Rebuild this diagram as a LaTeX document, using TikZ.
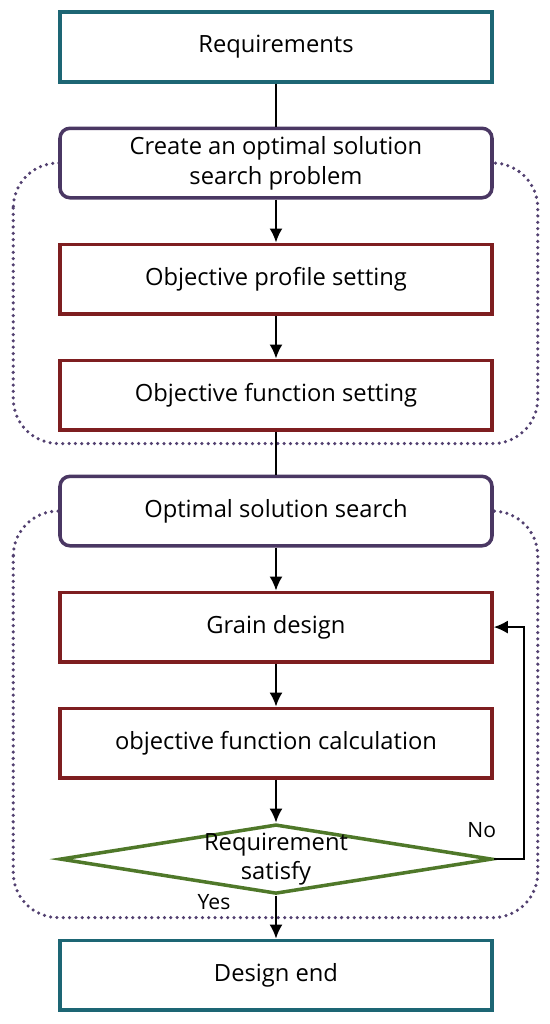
\documentclass[tikz,border=0pt]{standalone}
\usepackage{fontspec}
\setmainfont{Open Sans}
\usepackage{tikz}
\usetikzlibrary{arrows.meta,positioning,shapes.geometric,backgrounds}

\definecolor{endcol}{HTML}{1D6674}
\definecolor{probcol}{HTML}{4A3763}
\definecolor{taskcol}{HTML}{7E1E20}
\definecolor{deccol}{HTML}{4F7829}
\definecolor{groupcol}{HTML}{524070}

\begin{document}
\begin{tikzpicture}[>={Latex[length=2.8mm,width=2.6mm]},line width=1.1pt,node distance=0.86cm,
        font=\fontsize{13.5}{17}\selectfont,
        box/.style={draw,line width=2pt,fill=white,minimum width=8.64cm,minimum height=1.39cm,align=center,inner sep=2pt},
        endbox/.style={box,draw=endcol},
        probbox/.style={box,draw=probcol,rounded corners=0.2cm},
        taskbox/.style={box,draw=taskcol},
        decision/.style={diamond,draw=deccol,line width=2pt,fill=white,aspect=6,inner sep=0pt,
            minimum width=8.64cm,minimum height=1.39cm},
        group/.style={draw=groupcol,line width=2pt,line cap=round,dash pattern=on 0pt off 3.6pt,rounded corners=0.9cm}]
    
    \useasboundingbox (0,0) rectangle (11,20.48);
    
    \node[endbox] (req) at (5.52,19.54) {Requirements};
    \node[probbox] (create) [below=of req] {Create an optimal solution\\search problem};
    \node[taskbox] (profile) [below=of create] {Objective profile setting};
    \node[taskbox] (funcset) [below=of profile] {Objective function setting};
    \node[probbox] (search) [below=of funcset] {Optimal solution search};
    \node[taskbox] (grain) [below=of search] {Grain design};
    \node[taskbox] (calc) [below=of grain] {objective function calculation};
    \node[decision] (check) [below=of calc] {};
    \node[align=center] (checktext) at (check) {Requirement\\satisfy};
    \node[endbox] (end) [below=of check] {Design end};
    
    \node[font=\fontsize{12}{14}\selectfont] (no) at ([xshift=-0.24cm,yshift=0.58cm]check.east) {No};
    \node[font=\fontsize{12}{14}\selectfont] (yes) at ([xshift=-1.24cm,yshift=-0.12cm]check.south) {Yes};
    
    \begin{scope}[on background layer]
        \draw[group] ([xshift=-0.9cm]create.west) rectangle ([xshift=0.88cm,yshift=-0.24cm]funcset.south east);
        \draw[group] ([xshift=-0.9cm]search.west) rectangle ([xshift=0.88cm,yshift=-0.44cm]check.south -| calc.east);
    \end{scope}
    
    \path
    (req) edge (create)
    (create) edge [->] (profile)
    (profile) edge [->] (funcset)
    (funcset) edge (search)
    (search) edge [->] (grain)
    (grain) edge [->] (calc)
    (calc) edge [->] (check)
    (check) edge [->] (end);
    \draw[->] (check.east) -- ++(0.6cm,0) |- (grain.east);
\end{tikzpicture}
\end{document}
